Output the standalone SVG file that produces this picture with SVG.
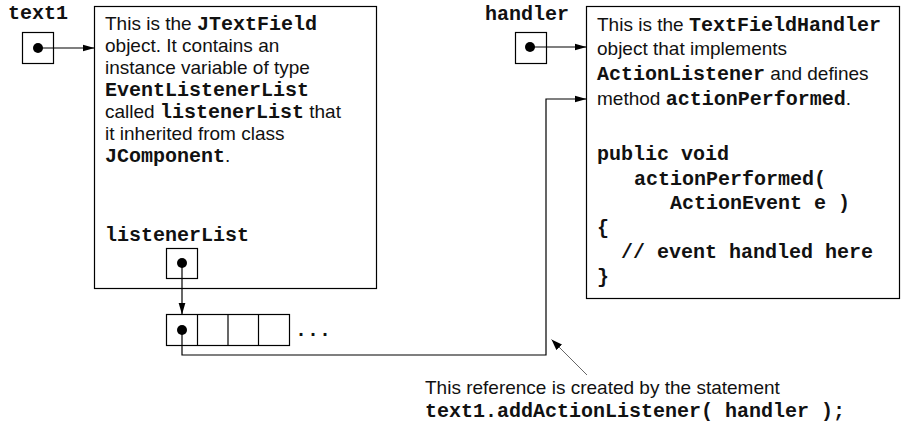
<svg xmlns="http://www.w3.org/2000/svg" width="901" height="428" viewBox="0 0 901 428">
<style>
  .box { fill: #fff; stroke: #000; stroke-width: 1.2; }
  .sans { font-family: "Liberation Sans", Arial, sans-serif; font-size: 19px; fill: #111; }
  .mono { font-family: "Liberation Mono", "Courier New", monospace; font-size: 20px; font-weight: bold; fill: #111; }
  .wire { fill: none; stroke: #000; stroke-width: 1.2; }
  .thin { fill: none; stroke: #000; stroke-width: 0.6; }
  .dot { fill: #000; }
</style>
<defs>
  <marker id="arr" markerUnits="userSpaceOnUse" markerWidth="13" markerHeight="8" refX="12" refY="4" orient="auto">
    <path d="M0,0.5 L12,4 L0,7.5 z" fill="#000"/>
  </marker>
  <marker id="arrs" markerUnits="userSpaceOnUse" markerWidth="12" markerHeight="8" refX="11" refY="4" orient="auto">
    <path d="M0,0 L11,4 L0,8 z" fill="#000"/>
  </marker>
</defs>

<g id="text1">
  <text class="mono" x="8" y="19">text1</text>
  <rect class="box" x="22.5" y="32.5" width="31" height="31"/>
  <circle class="dot" cx="38" cy="48" r="5"/>
</g>

<g id="jtextfield">
  <rect class="box" x="94.5" y="6.5" width="282" height="282"/>
  <text class="sans" x="105" y="30">This is the <tspan class="mono">JTextField</tspan></text>
  <text class="sans" x="105" y="52">object. It contains an</text>
  <text class="sans" x="105" y="74">instance variable of type</text>
  <text class="mono" x="105" y="96">EventListenerList</text>
  <text class="sans" x="105" y="118">called <tspan class="mono">listenerList</tspan> that</text>
  <text class="sans" x="105" y="140">it inherited from class</text>
  <text class="sans" x="105" y="162"><tspan class="mono">JComponent</tspan>.</text>
  <text class="mono" x="105" y="241">listenerList</text>
  <rect class="box" x="166.5" y="248.5" width="31" height="30"/>
  <circle class="dot" cx="182" cy="263" r="5"/>
</g>

<g id="listenerArray">
  <rect class="box" x="166.5" y="314.5" width="123" height="31"/>
  <line class="wire" x1="197.5" y1="314.5" x2="197.5" y2="345.5"/>
  <line class="wire" x1="228" y1="314.5" x2="228" y2="345.5"/>
  <line class="wire" x1="258.5" y1="314.5" x2="258.5" y2="345.5"/>
  <circle class="dot" cx="182" cy="330" r="5"/>
  <text class="mono" x="295" y="336">...</text>
</g>

<g id="handler">
  <text class="mono" x="485" y="20">handler</text>
  <rect class="box" x="515.5" y="32.5" width="31" height="31"/>
  <circle class="dot" cx="530" cy="47" r="5"/>
</g>

<g id="textfieldhandler">
  <rect class="box" x="586.5" y="6.5" width="313" height="292"/>
  <text class="sans" x="597" y="31">This is the <tspan class="mono">TextFieldHandler</tspan></text>
  <text class="sans" x="597" y="55">object that implements</text>
  <text class="sans" x="597" y="80"><tspan class="mono">ActionListener</tspan> and defines</text>
  <text class="sans" x="597" y="105">method <tspan class="mono">actionPerformed</tspan>.</text>
  <text class="mono" x="597" y="160">public void</text>
  <text class="mono" x="634" y="184.5">actionPerformed(</text>
  <text class="mono" x="670" y="209">ActionEvent e )</text>
  <text class="mono" x="597" y="233.5">{</text>
  <text class="mono" x="621" y="258">// event handled here</text>
  <text class="mono" x="597" y="282.5">}</text>
</g>

<g id="connectors">
  <line class="wire" x1="38" y1="48" x2="94.5" y2="48" marker-end="url(#arr)"/>
  <line class="wire" x1="530" y1="47" x2="586.5" y2="47" marker-end="url(#arr)"/>
  <line class="wire" x1="182" y1="263" x2="182" y2="314.5" marker-end="url(#arr)"/>
  <polyline class="wire" points="182,330 182,355 546,355 546,99 586.5,99" marker-end="url(#arr)"/>
  <line class="thin" x1="587" y1="375" x2="551.5" y2="339.5" marker-end="url(#arrs)"/>
</g>

<g id="annotation">
  <text class="sans" x="425" y="394">This reference is created by the statement</text>
  <text class="mono" x="425" y="417">text1.addActionListener( handler );</text>
</g>
</svg>
